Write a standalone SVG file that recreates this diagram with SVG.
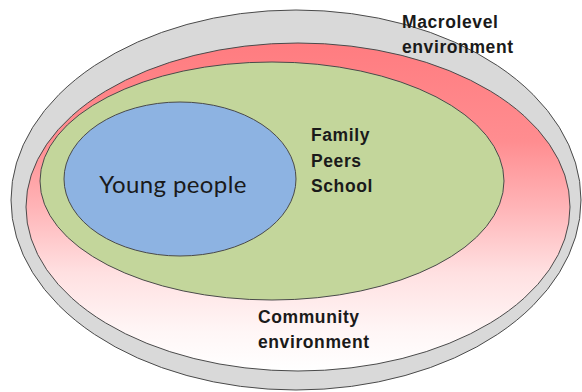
<svg xmlns="http://www.w3.org/2000/svg" width="582" height="392" viewBox="0 0 582 392">
  <defs>
    <linearGradient id="redGrad" x1="0" y1="0" x2="0" y2="1">
      <stop offset="0" stop-color="#ff7c80"/>
      <stop offset="0.3" stop-color="#ff8d90"/>
      <stop offset="0.5" stop-color="#ffb4b7"/>
      <stop offset="0.7" stop-color="#ffe0e1"/>
      <stop offset="0.88" stop-color="#fff6f6"/>
      <stop offset="1" stop-color="#ffffff"/>
    </linearGradient>
    <style>
      .ring { stroke: #4a4a4a; stroke-width: 1; }
      .lbl { font-family: "Liberation Sans", Arial, sans-serif; font-weight: bold; font-size: 17.5px; fill: #1a1a1a; letter-spacing: 0.6px; }
      .yp { font-family: "Lato", "Noto Sans", sans-serif; font-size: 24px; fill: #1a1a1a; letter-spacing: 0.4px; }
    </style>
  </defs>
  <rect width="582" height="392" fill="#ffffff"/>
  <g id="macrolevel">
    <ellipse class="ring" cx="296" cy="200" rx="285" ry="190" fill="#d9d9d9"/>
  </g>
  <g id="community">
    <ellipse class="ring" cx="298" cy="207" rx="272" ry="164" fill="url(#redGrad)"/>
  </g>
  <g id="family">
    <ellipse class="ring" cx="272" cy="181" rx="232" ry="119" fill="#c3d69b"/>
  </g>
  <g id="young">
    <ellipse class="ring" cx="180" cy="179" rx="116" ry="77" fill="#8db3e2"/>
    <text class="yp" x="173" y="193" text-anchor="middle">Young people</text>
  </g>
  <g id="labels">
    <text class="lbl" x="402" y="28">Macrolevel</text>
    <text class="lbl" x="402" y="53">environment</text>
    <text class="lbl" x="311" y="141">Family</text>
    <text class="lbl" x="311" y="167">Peers</text>
    <text class="lbl" x="311" y="192">School</text>
    <text class="lbl" x="258" y="323">Community</text>
    <text class="lbl" x="258" y="348">environment</text>
  </g>
  <g id="connectors"/>
</svg>
